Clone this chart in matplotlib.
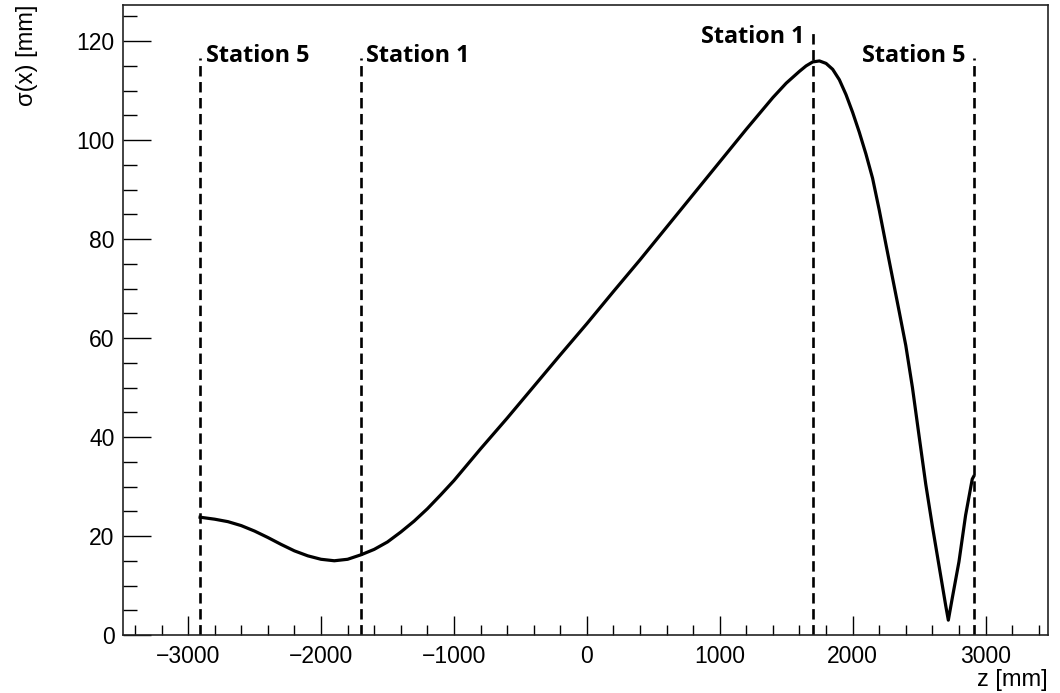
import matplotlib
matplotlib.use("Agg")
import matplotlib.pyplot as plt
from matplotlib.ticker import MultipleLocator

plt.rcParams['font.family'] = ['Liberation Sans', 'DejaVu Sans']
plt.rcParams['lines.scale_dashes'] = False

# Beam width sigma(x) along z
z_mm = [-2910, -2800, -2700, -2600, -2500, -2400, -2300, -2200, -2100, -2000,
        -1900, -1800, -1700, -1600, -1500, -1400, -1300, -1200, -1100, -1000,
        -800, -600, -400, -200, 0, 200, 400, 600, 800, 1000,
        1200, 1400, 1500, 1600, 1650, 1700, 1750, 1800, 1850, 1900,
        1950, 2000, 2050, 2100, 2150, 2200, 2250, 2300, 2350, 2400,
        2450, 2500, 2550, 2600, 2650, 2700, 2720, 2750, 2800, 2850,
        2900, 2910]
sigma_mm = [23.8, 23.4, 22.9, 22.1, 21.0, 19.7, 18.3, 17.0, 16.0, 15.3,
            15.0, 15.3, 16.2, 17.3, 18.8, 20.8, 23.0, 25.5, 28.3, 31.2,
            37.6, 43.8, 50.2, 56.6, 62.9, 69.4, 75.8, 82.4, 89.0, 95.6,
            102.2, 108.6, 111.5, 113.9, 115.0, 115.8, 116.0, 115.5, 114.3, 112.2,
            109.2, 105.6, 101.6, 97.2, 92.3, 85.9, 79.0, 72.2, 65.4, 58.5,
            50.0, 40.2, 30.5, 22.0, 14.0, 6.0, 3.0, 7.5, 14.8, 24.2,
            31.5, 32.0]

station_z = [-2910, -1700, 1700, 2910]
station_top = [116.6, 116.6, 121.6, 116.6]
station_labels = ['Station 5', 'Station 1', 'Station 1', 'Station 5']
label_y = [117.0, 117.0, 120.8, 117.0]

fig = plt.figure(figsize=(10.6, 6.93), dpi=100)
ax = fig.add_axes([123/1060, 1-635/693, (1048-123)/1060, (635-5)/693])

ax.plot(z_mm, sigma_mm, color='black', lw=2.3, solid_joinstyle='round')

for zs, top in zip(station_z, station_top):
    ax.plot([zs, zs], [0, top], color='black', lw=1.9, linestyle=(0, (7.5, 4.0)))

for zs, lab, ly in zip(station_z, station_labels, label_y):
    if zs < 0:
        ax.annotate(lab, xy=(zs, ly), xytext=(4, 0), textcoords='offset points',
                    ha='left', va='center', fontsize=16.8, fontweight='bold',
                    family=['Open Sans', 'DejaVu Sans'])
    else:
        ax.annotate(lab, xy=(zs, ly), xytext=(-6, 0), textcoords='offset points',
                    ha='right', va='center', fontsize=16.8, fontweight='bold',
                    family=['Open Sans', 'DejaVu Sans'])

ax.set_xlim(-3490, 3470)
ax.set_ylim(0, 127.3)
ax.xaxis.set_major_locator(MultipleLocator(1000))
ax.xaxis.set_minor_locator(MultipleLocator(200))
ax.yaxis.set_major_locator(MultipleLocator(20))
ax.yaxis.set_minor_locator(MultipleLocator(5))
ax.tick_params(axis='x', which='major', direction='in', length=14, width=1.0,
               labelsize=16.5, pad=7, top=False)
ax.tick_params(axis='x', which='minor', direction='in', length=7.5, width=1.0, top=False)
ax.tick_params(axis='y', which='major', direction='in', length=20, width=1.0,
               labelsize=16.5, pad=6, right=False)
ax.tick_params(axis='y', which='minor', direction='in', length=10, width=1.0, right=False)
for sp in ax.spines.values():
    sp.set_linewidth(1.2)
    sp.set_color('#222222')

fig.text(27/1060, 1-5/693, 'σ(x) [mm]', rotation=90, ha='center', va='top', fontsize=17)
fig.text(1048/1060, 1-680/693, 'z [mm]', ha='right', va='center', fontsize=17)

fig.savefig('out.png', dpi=100)
